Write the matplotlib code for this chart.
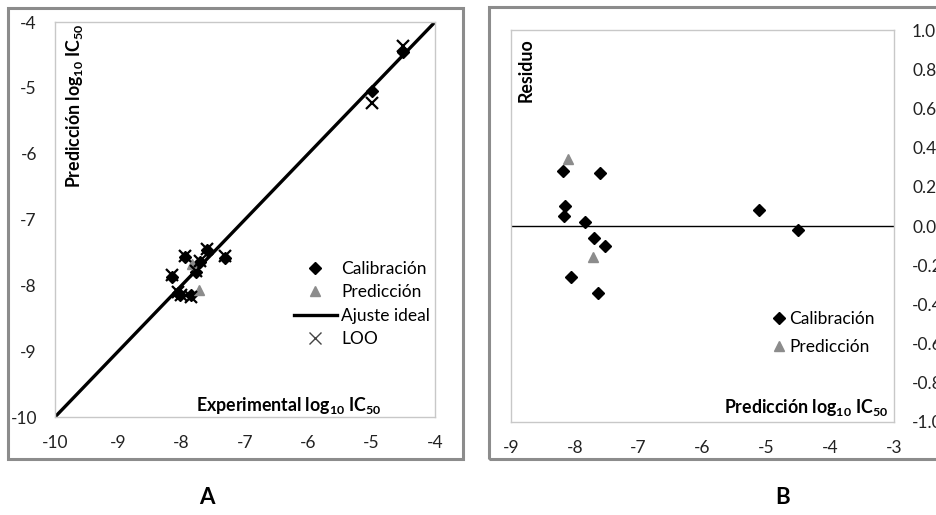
import matplotlib
matplotlib.use("Agg")
import matplotlib.pyplot as plt
from matplotlib.patches import Rectangle
import numpy as np

plt.rcParams["font.family"] = ["Lato", "DejaVu Sans"]
plt.rcParams["axes.unicode_minus"] = False
plt.rcParams["mathtext.fontset"] = "custom"
plt.rcParams["mathtext.rm"] = "Lato:bold"
plt.rcParams["mathtext.it"] = "Lato:bold"
plt.rcParams["mathtext.bf"] = "Lato:bold"

# panel A: experimental vs predicted
cal_exp = [-4.50, -5.00, -7.95, -7.60, -7.31, -7.71, -7.77, -8.16, -8.05, -8.02, -7.85]
cal_pred = [-4.45, -5.05, -7.57, -7.47, -7.58, -7.64, -7.80, -7.87, -8.12, -8.14, -8.15]
pre_exp = [-7.83, -7.73]
pre_pred = [-7.67, -8.07]
loo_exp = [-4.50, -5.00, -7.95, -7.60, -7.31, -7.71, -7.77, -8.16, -8.05, -8.01, -7.85]
loo_pred = [-4.36, -5.23, -7.55, -7.45, -7.56, -7.63, -7.78, -7.85, -8.10, -8.15, -8.18]
ideal = [-10, -4]
a_ticks = [-10, -9, -8, -7, -6, -5, -4]

# panel B: residuals
res_cal_x = [-8.18, -7.61, -8.15, -8.17, -7.84, -7.70, -7.53, -8.06, -7.64, -5.11, -4.51]
res_cal_y = [0.28, 0.27, 0.10, 0.05, 0.02, -0.06, -0.10, -0.26, -0.34, 0.08, -0.02]
res_pre_x = [-8.11, -7.72]
res_pre_y = [0.34, -0.16]
b_xticks = [-9, -8, -7, -6, -5, -4, -3]
b_yticks = [-1.0, -0.8, -0.6, -0.4, -0.2, 0.0, 0.2, 0.4, 0.6, 0.8, 1.0]

W, H = 937, 515
fig = plt.figure(figsize=(W / 100, H / 100), dpi=100)


def box(x0, y0, x1, y1):
    # pixel box (top-left origin) -> figure fraction rect
    return [x0 / W, 1 - y1 / H, (x1 - x0) / W, (y1 - y0) / H]


def pt(x, y):
    return x / W, 1 - y / H


fs = 12.5
gray = "#8c8c8c"

for r in [box(8, 8, 463, 459), box(489, 7, 960, 459)]:
    fig.patches.append(Rectangle((r[0], r[1]), r[2], r[3], transform=fig.transFigure,
                                 fill=False, edgecolor=gray, lw=2.2, zorder=0))

# ---- A
ax = fig.add_axes(box(55, 22, 435, 417))
ax.plot(ideal, ideal, color="black", lw=2.4, label="Ajuste ideal", zorder=2)
ax.plot(cal_exp, cal_pred, "D", color="black", ms=6.5, ls="none", label="Calibración", zorder=3)
ax.plot(pre_exp, pre_pred, "^", color=gray, ms=7, ls="none", label="Predicción", zorder=3)
ax.plot(loo_exp, loo_pred, "x", color="black", ms=8, mew=1.6, ls="none", label="LOO", zorder=4)
ax.set_xlim(-10, -4)
ax.set_ylim(-10, -4)
ax.set_xticks(a_ticks)
ax.set_yticks(a_ticks)
ax.set_xticklabels([str(t) for t in a_ticks])
ax.set_yticklabels([str(t) for t in a_ticks])

h, l = ax.get_legend_handles_labels()
order = [1, 2, 0, 3]
leg = ax.legend([h[i] for i in order], [l[i] for i in order], loc="upper left",
                bbox_to_anchor=pt(285, 252), bbox_transform=fig.transFigure,
                frameon=False, fontsize=fs, borderpad=0, handlelength=2.5,
                handletextpad=0.25, labelspacing=0.43)
leg.legend_handles[3].set_markeredgewidth(1.0)
leg.legend_handles[3].set_color("#444444")

fig.text(*pt(75, 24), "Predicción log$_{10}$ IC$_{50}$", rotation=90, ha="center",
         va="top", fontsize=fs + 0.3, fontweight="bold")
fig.text(*pt(381, 405), "Experimental log$_{10}$ IC$_{50}$", ha="right", va="center",
         fontsize=fs + 0.3, fontweight="bold")

# ---- B
bx = fig.add_axes(box(511, 30, 894, 422))
bx.axhline(0, color="black", lw=1.0, zorder=2)
bx.plot(res_cal_x, res_cal_y, "D", color="black", ms=6.5, ls="none", label="Calibración", zorder=3)
bx.plot(res_pre_x, res_pre_y, "^", color=gray, ms=7, ls="none", label="Predicción", zorder=3)
bx.set_xlim(-9, -3)
bx.set_ylim(-1, 1)
bx.set_xticks(b_xticks)
bx.set_xticklabels([str(t) for t in b_xticks])
bx.set_yticks(b_yticks)
bx.set_yticklabels(["%.1f" % t for t in b_yticks])
bx.yaxis.tick_right()
bx.legend(loc="upper left", bbox_to_anchor=pt(764, 302), bbox_transform=fig.transFigure,
          frameon=False, fontsize=fs, borderpad=0, handlelength=0.7,
          handletextpad=0.25, labelspacing=0.72)

fig.text(*pt(526, 38), "Residuo", rotation=90, ha="center", va="top",
         fontsize=fs + 0.3, fontweight="bold")
fig.text(*pt(888, 407), "Predicción log$_{10}$ IC$_{50}$", ha="right", va="center",
         fontsize=fs + 0.3, fontweight="bold")

for a in (ax, bx):
    for s in a.spines.values():
        s.set_color("#c8c8c8")
        s.set_linewidth(1.0)
    a.tick_params(length=0, labelsize=fs, colors="#222222", pad=13)

fig.text(*pt(207, 498), "A", ha="center", va="center", fontsize=16, fontweight="bold")
fig.text(*pt(783, 498), "B", ha="center", va="center", fontsize=16, fontweight="bold")

fig.savefig("out.png", dpi=100, facecolor="white")
